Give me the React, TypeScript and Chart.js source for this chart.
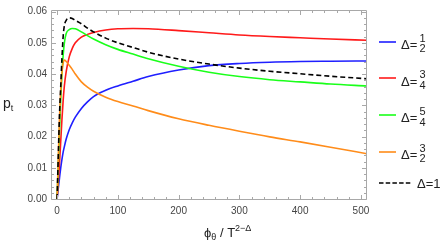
import React, { useEffect, useRef } from "react";
import { Chart, registerables } from "chart.js";
Chart.register(...registerables);

// shared sample positions (phi_theta / T^(2-Δ))
const xValues = [0, 2, 4, 6, 8, 10, 12, 15, 20, 25, 30, 40, 50, 60, 80, 100, 125, 150, 200, 250, 300, 350, 400, 450, 510];

// Δ = 1/2
const blueValues = [0, 0.0035, 0.0068, 0.0100, 0.0127, 0.0150, 0.0168, 0.0192, 0.0222, 0.0244, 0.0262, 0.0290, 0.0311, 0.0328, 0.0348, 0.0362, 0.0377, 0.0392, 0.0413, 0.0427, 0.0434, 0.0438, 0.0440, 0.0441, 0.0442];
// Δ = 3/4
const redValues = [0, 0.0055, 0.0115, 0.0185, 0.0255, 0.0315, 0.0362, 0.0408, 0.0455, 0.0482, 0.0500, 0.0518, 0.0527, 0.0533, 0.0541, 0.0545, 0.0546, 0.0545, 0.0539, 0.0532, 0.0525, 0.0520, 0.0516, 0.0512, 0.0508];
// Δ = 5/4
const greenValues = [0, 0.011, 0.022, 0.032, 0.040, 0.046, 0.050, 0.0530, 0.0542, 0.0546, 0.0545, 0.0535, 0.0523, 0.0512, 0.0494, 0.0479, 0.0464, 0.0449, 0.0425, 0.0406, 0.0392, 0.0382, 0.0375, 0.0368, 0.0362];
// Δ = 3/2
const orangeValues = [0, 0.013, 0.026, 0.0346, 0.0405, 0.0435, 0.0445, 0.0440, 0.0428, 0.0415, 0.0400, 0.0375, 0.0358, 0.0345, 0.0326, 0.0312, 0.0298, 0.0283, 0.0257, 0.0236, 0.0217, 0.0199, 0.0183, 0.0166, 0.0145];
// Δ = 1
const blackValues = [0, 0.014, 0.027, 0.036, 0.045, 0.052, 0.0555, 0.0572, 0.0580, 0.0578, 0.0572, 0.0561, 0.0547, 0.0535, 0.0515, 0.0500, 0.0485, 0.0470, 0.0448, 0.0432, 0.0419, 0.0409, 0.0401, 0.0393, 0.0385];

const xTickValues = [0, 100, 200, 300, 400, 500];
const yTickValues = [0, 0.01, 0.02, 0.03, 0.04, 0.05, 0.06];

const FONT = '"Liberation Sans", Arial, sans-serif';

const framePlugin = {
  id: "frameTicks",
  afterDatasetsDraw(chart: any) {
    const { ctx, chartArea: a, scales } = chart;
    const xs = scales.x;
    const ys = scales.y;
    ctx.save();
    ctx.strokeStyle = "#a8a8a8";
    ctx.lineWidth = 1;
    const L = Math.round(a.left) + 0.5;
    const R = Math.round(a.right) - 0.5;
    const T = Math.round(a.top) + 0.5;
    const B = Math.round(a.bottom) - 0.5;
    ctx.beginPath();
    ctx.rect(L, T, R - L, B - T);
    ctx.stroke();
    ctx.beginPath();
    for (let v = 0; v <= 500; v += 20) {
      const px = Math.round(xs.getPixelForValue(v)) + 0.5;
      const len = v % 100 === 0 ? 4.5 : 2.5;
      ctx.moveTo(px, B);
      ctx.lineTo(px, B - len);
      ctx.moveTo(px, T);
      ctx.lineTo(px, T + len);
    }
    for (let i = 0; i <= 30; i++) {
      const v = i * 0.002;
      const py = Math.round(ys.getPixelForValue(v)) + 0.5;
      const len = i % 5 === 0 ? 4.5 : 2.5;
      ctx.moveTo(L, py);
      ctx.lineTo(L + len, py);
      ctx.moveTo(R, py);
      ctx.lineTo(R - len, py);
    }
    ctx.stroke();
    ctx.restore();
  },
};

function mk(values: number[]) {
  return values.map((y, i) => ({ x: xValues[i], y }));
}

const legendRows = [
  { color: "#1f1fff", num: "1", den: "2", dashed: false, y: 41.7 },
  { color: "#ff1a1a", num: "3", den: "4", dashed: false, y: 78.3 },
  { color: "#1aff1a", num: "5", den: "4", dashed: false, y: 115 },
  { color: "#ff8c1a", num: "3", den: "2", dashed: false, y: 151.7 },
];

export default function App() {
  const ref = useRef<HTMLCanvasElement | null>(null);
  useEffect(() => {
    if (!ref.current) return;
    const common = {
      borderWidth: 1.6,
      pointRadius: 0,
      fill: false,
      cubicInterpolationMode: "monotone" as const,
      showLine: true,
    };
    const chart = new Chart(ref.current, {
      type: "scatter",
      data: {
        datasets: [
          { ...common, label: "Δ=1/2", data: mk(blueValues), borderColor: "#1f1fff", order: 4 },
          { ...common, label: "Δ=3/4", data: mk(redValues), borderColor: "#ff1a1a", order: 3 },
          { ...common, label: "Δ=5/4", data: mk(greenValues), borderColor: "#1aff1a", order: 2 },
          { ...common, label: "Δ=3/2", data: mk(orangeValues), borderColor: "#ff8c1a", order: 1 },
          { ...common, label: "Δ=1", data: mk(blackValues), borderColor: "#000000", borderDash: [5, 3], order: 0 },
        ],
      },
      options: {
        animation: false,
        responsive: false,
        maintainAspectRatio: false,
        devicePixelRatio: 1,
        layout: { padding: { left: 0, top: 6, right: 78, bottom: 0 } },
        plugins: { legend: { display: false }, tooltip: { enabled: false } },
        scales: {
          x: {
            type: "linear",
            min: -10,
            max: 510,
            grid: { display: false, drawTicks: false },
            border: { display: false },
            afterBuildTicks: (s: any) => {
              s.ticks = xTickValues.map((v) => ({ value: v }));
            },
            afterFit: (s: any) => {
              s.height = 41;
            },
            ticks: {
              padding: 5,
              color: "#444",
              font: { family: FONT, size: 10 },
              maxRotation: 0,
              callback: (v: any) => String(v),
            },
          },
          y: {
            type: "linear",
            min: -0.0003,
            max: 0.0605,
            grid: { display: false, drawTicks: false },
            border: { display: false },
            afterBuildTicks: (s: any) => {
              s.ticks = yTickValues.map((v) => ({ value: v }));
            },
            afterFit: (s: any) => {
              s.width = 51;
            },
            ticks: {
              padding: 4,
              color: "#444",
              font: { family: FONT, size: 10 },
              callback: (v: any) => Number(v).toFixed(2),
            },
          },
        },
      },
      plugins: [framePlugin],
    });
    return () => chart.destroy();
  }, []);

  const abs = (l: number, t: number): React.CSSProperties => ({ position: "absolute", left: l, top: t });

  return (
    <div style={{ position: "fixed", left: 0, top: 0, width: 445, height: 241, background: "#fff", fontFamily: FONT, color: "#222" }}>
      <canvas ref={ref} width={445} height={241} style={{ position: "absolute", left: 0, top: 0, width: 445, height: 241 }} />
      {/* y-axis title */}
      <div style={{ ...abs(3, 96), fontSize: 14, lineHeight: "14px", whiteSpace: "nowrap" }}>
        p<sub style={{ fontSize: 9, verticalAlign: "-3px" }}>t</sub>
      </div>
      {/* x-axis title */}
      <div style={{ ...abs(204, 221), fontSize: 13, lineHeight: "14px", whiteSpace: "nowrap" }}>
        ϕ<sub style={{ fontSize: 9, verticalAlign: "-3px" }}>θ</sub> / T<sup style={{ fontSize: 9, verticalAlign: "6px" }}>2−Δ</sup>
      </div>
      {/* legend */}
      {legendRows.map((r, i) => (
        <React.Fragment key={i}>
          <svg style={abs(379, r.y - 2)} width={17} height={4}>
            <line x1={0} y1={2} x2={17} y2={2} stroke={r.color} strokeWidth={1.6} />
          </svg>
          <div style={{ ...abs(401, r.y + 3.3 - 7), fontSize: 13, lineHeight: "14px" }}>Δ=</div>
          <div style={{ ...abs(419.5, r.y - 4 - 6), fontSize: 11, lineHeight: "12px" }}>{r.num}</div>
          <div style={{ ...abs(419.5, r.y + 6.6 - 6), fontSize: 11, lineHeight: "12px" }}>{r.den}</div>
        </React.Fragment>
      ))}
      <svg style={abs(379, 183.3 - 2)} width={32} height={4}>
        <line x1={0} y1={2} x2={32} y2={2} stroke="#000" strokeWidth={1.6} strokeDasharray="4.5 2.2" />
      </svg>
      <div style={{ ...abs(417, 184 - 7), fontSize: 13, lineHeight: "14px" }}>Δ=1</div>
    </div>
  );
}
